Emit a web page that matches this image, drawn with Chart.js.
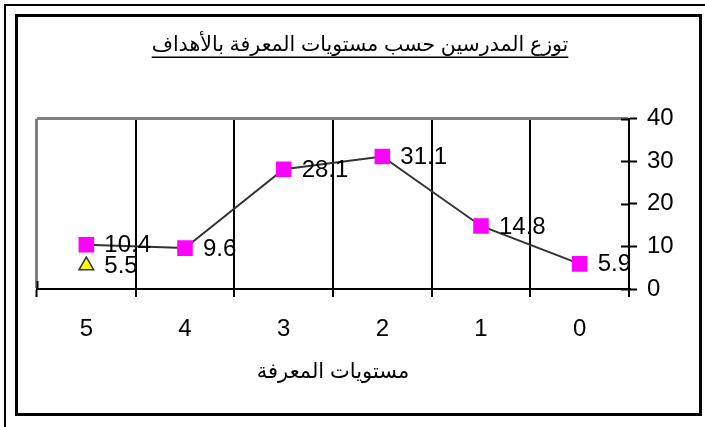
<!DOCTYPE html>
<html>
<head>
<meta charset="utf-8">
<script src="https://cdn.jsdelivr.net/npm/chart.js@4"></script>
<style>
  body { margin: 0; background: #fff; }
  #wrap { width: 705px; height: 427px; }
</style>
</head>
<body>
<div id="wrap"><canvas id="chart" width="705" height="427"></canvas></div>
<script>
// values
const levels = ['5', '4', '3', '2', '1', '0'];
const teachers = [10.4, 9.6, 28.1, 31.1, 14.8, 5.9];
const extra = [5.5, null, null, null, null, null];
const yTicks = [0, 10, 20, 30, 40];

const titleText = 'توزع المدرسين حسب مستويات المعرفة بالأهداف';
const axisTitle = 'مستويات المعرفة';

const magenta = '#ff00ff';
const yellow = '#ffff00';
const grey = '#808080';
const lineGrey = '#333333';

Chart.defaults.font.family = "'Liberation Sans', Arial, 'DejaVu Sans', sans-serif";
Chart.defaults.color = '#000';

// white page, double frame, title underline, value labels, inward ticks
const decor = {
  id: 'decor',
  beforeDraw(chart) {
    const c = chart.ctx;
    c.save();
    c.fillStyle = '#fff';
    c.fillRect(0, 0, chart.width, chart.height);
    c.strokeStyle = '#000';
    c.lineWidth = 2;
    c.beginPath();
    c.moveTo(5, chart.height);
    c.lineTo(5, 5);
    c.lineTo(chart.width, 5);
    c.stroke();
    c.lineWidth = 3;
    c.strokeRect(16.5, 15.5, 684, 399);
    c.restore();
  },
  afterDatasetsDraw(chart) {
    const c = chart.ctx;
    c.save();
    c.font = "24px 'Liberation Sans', Arial, sans-serif";
    c.fillStyle = '#000';
    c.textAlign = 'left';
    c.textBaseline = 'middle';
    chart.data.datasets.forEach((ds, i) => {
      chart.getDatasetMeta(i).data.forEach((pt, j) => {
        const v = ds.data[j];
        if (v === null || v === undefined) return;
        c.fillText(v.toFixed(1), pt.x + 18, pt.y + 1);
      });
    });
    c.restore();
  },
  afterDraw(chart) {
    const c = chart.ctx;
    const a = chart.chartArea;
    const y = chart.scales.y;
    c.save();
    c.strokeStyle = '#000';
    c.lineWidth = 2;
    c.beginPath();
    yTicks.forEach(t => {
      const py = Math.round(y.getPixelForValue(t)) + 0.5;
      c.moveTo(a.right - 8, py);
      c.lineTo(a.right, py);
    });
    c.moveTo(a.left + 0.5, a.bottom - 8);
    c.lineTo(a.left + 0.5, a.bottom);
    c.stroke();

    // underline under the title
    const tb = chart.titleBlock;
    const opts = chart.options.plugins.title;
    const f = Chart.helpers.toFont(opts.font);
    c.font = f.string;
    const w = c.measureText(titleText).width;
    const cx = tb.left + tb.width / 2;
    const ty = tb.top + opts.padding.top + f.lineHeight / 2 + 12;
    c.lineWidth = 1.5;
    c.beginPath();
    c.moveTo(cx - w / 2, ty);
    c.lineTo(cx + w / 2, ty);
    c.stroke();
    c.restore();
  }
};

const data = {
  labels: levels,
  datasets: [{
    label: 'teachers',
    data: teachers,
    borderColor: lineGrey,
    borderWidth: 2,
    pointStyle: 'rect',
    pointRadius: 11,
    pointBackgroundColor: magenta,
    pointBorderColor: magenta,
    pointBorderWidth: 0,
    tension: 0,
    order: 1
  }, {
    label: 'extra',
    data: extra,
    showLine: false,
    pointStyle: 'triangle',
    pointRadius: 8.5,
    pointBackgroundColor: yellow,
    pointBorderColor: lineGrey,
    pointBorderWidth: 1.5,
    order: 2
  }]
};

const config = {
  type: 'line',
  data: data,
  options: {
    responsive: false,
    animation: false,
    devicePixelRatio: 1,
    layout: { padding: { left: 37, right: 22, top: 0, bottom: 0 } },
    plugins: {
      legend: { display: false },
      tooltip: { enabled: false },
      title: {
        display: true,
        text: titleText,
        color: '#000',
        font: { size: 20.5, weight: 'normal' },
        padding: { top: 33, bottom: 61 }
      }
    },
    scales: {
      x: {
        offset: true,
        afterFit(s) { s.height = 138; },
        grid: {
          offset: true,
          color: ctx => ctx.index === 0 ? grey : '#000',
          lineWidth: ctx => ctx.index === 0 ? 3 : 2,
          tickColor: '#000',
          tickWidth: 2,
          tickLength: 8
        },
        border: { display: true, color: '#000', width: 2 },
        ticks: { font: { size: 24 }, color: '#000', padding: 18, maxRotation: 0 },
        title: {
          display: true,
          text: axisTitle,
          color: '#000',
          font: { size: 21 },
          padding: { top: 0, bottom: 42 }
        }
      },
      y: {
        position: 'right',
        min: 0,
        max: 40,
        afterFit(s) { s.width = 54; },
        afterBuildTicks(s) { s.ticks = yTicks.map(v => ({ value: v })); },
        grid: {
          color: ctx => ctx.tick && ctx.tick.value === 40 ? grey : 'rgba(0,0,0,0)',
          lineWidth: ctx => ctx.tick && ctx.tick.value === 40 ? 3 : 1,
          tickColor: '#000',
          tickWidth: 2,
          tickLength: 8
        },
        border: { display: true, color: '#000', width: 2 },
        ticks: { font: { size: 24 }, color: '#000', padding: 10 }
      }
    }
  },
  plugins: [decor]
};

new Chart(document.getElementById('chart'), config);
</script>
</body>
</html>
